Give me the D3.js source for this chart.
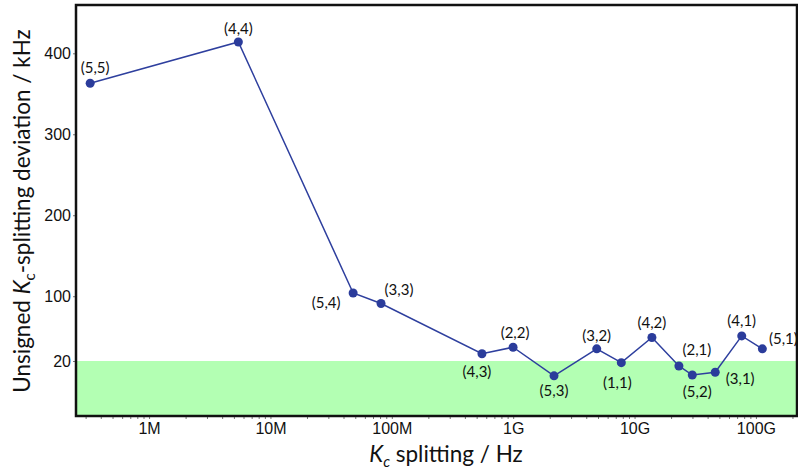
<!DOCTYPE html>
<html>
<head>
<meta charset="utf-8">
<script src="https://cdn.jsdelivr.net/npm/d3@7"></script>
<style>
  body { margin: 0; background: #fff; }
  svg { font-family: Lato, "Open Sans", sans-serif; }
</style>
</head>
<body>
<svg width="798" height="475"></svg>
<script>
// Kc splitting (Hz) per level, and deviation (kHz)
var labels = ["(5,5)", "(4,4)", "(5,4)", "(3,3)", "(4,3)", "(2,2)", "(5,3)", "(3,2)",
              "(1,1)", "(4,2)", "(2,1)", "(5,2)", "(3,1)", "(4,1)", "(5,1)"];
var splitting = [3.27e5, 5.44e6, 4.8e7, 8.15e7, 5.53e8, 9.98e8, 2.17e9, 4.88e9,
                 7.78e9, 1.39e10, 2.32e10, 2.99e10, 4.62e10, 7.64e10, 1.13e11];
var deviation = [363, 414, 104, 91, 29, 37, 14.6, 35, 19.4, 49, 18.2, 14.9, 15.9, 51, 35];
var yTicks = [20, 100, 200, 300, 400];
var xTickLabels = { 1e6: "1M", 1e7: "10M", 1e8: "100M", 1e9: "1G", 1e10: "10G", 1e11: "100G" };
var threshold = 20;

// label placement around each point (dx, dy)
var labelOffsets = [[5, -16], [0, -13], [-27, 10], [18, -14], [-5, 18], [2, -14], [0, 15], [0, -13],
                    [-4, 20], [0, -15], [18, -16], [5, 17], [25, 6], [0, -15], [21, -10]];

var svg = d3.select("svg");
var plotL = 76, plotT = 5, plotR = 797, plotB = 416;

var x = d3.scaleLog().domain([2.5e5, 2.18e11]).range([plotL, plotR]);
// the band below 20 kHz is drawn compressed
var y = d3.scaleLinear().domain([0, 20, 400]).range([plotB, 361, 53.3]);

svg.append("rect")
  .attr("x", plotL).attr("y", y(threshold))
  .attr("width", plotR - plotL).attr("height", plotB - y(threshold))
  .attr("fill", "#b3ffb3");

// x axis with minor ticks
var minor = [];
for (var e = 5; e <= 11; e++) for (var m = 1; m <= 9; m++) {
  var v = m * Math.pow(10, e);
  if (v >= 2.5e5 && v <= 2.18e11) minor.push(v);
}
var gx = svg.append("g")
  .attr("transform", "translate(0," + plotB + ")")
  .call(d3.axisBottom(x).tickValues(minor).tickSize(3).tickPadding(4)
    .tickFormat(function(d) { return xTickLabels[d] || ""; }));
gx.select(".domain").remove();
gx.selectAll("line").attr("stroke", "#777");
gx.selectAll("text").attr("font-size", 16).attr("fill", "#111");

var gy = svg.append("g")
  .attr("transform", "translate(" + plotL + ",0)")
  .call(d3.axisLeft(y).tickValues(yTicks).tickSize(3).tickPadding(2));
gy.select(".domain").remove();
gy.selectAll("line").attr("stroke", "#777");
gy.selectAll("text").attr("font-size", 16).attr("fill", "#111");

// frame
svg.append("rect")
  .attr("x", plotL).attr("y", plotT)
  .attr("width", plotR - plotL).attr("height", plotB - plotT)
  .attr("fill", "none").attr("stroke", "#111").attr("stroke-width", 2.5);

var pts = splitting.map(function(s, i) { return { x: s, y: deviation[i], label: labels[i], off: labelOffsets[i] }; });

svg.append("path")
  .datum(pts)
  .attr("fill", "none")
  .attr("stroke", "#2e3f9e")
  .attr("stroke-width", 1.5)
  .attr("d", d3.line().x(function(d) { return x(d.x); }).y(function(d) { return y(d.y); }));

svg.selectAll(".pt")
  .data(pts)
  .enter().append("circle")
  .attr("class", "pt")
  .attr("cx", function(d) { return x(d.x); })
  .attr("cy", function(d) { return y(d.y); })
  .attr("r", 4.5)
  .attr("fill", "#2b3c9b");

svg.selectAll(".lbl")
  .data(pts)
  .enter().append("text")
  .attr("class", "lbl")
  .attr("x", function(d) { return x(d.x) + d.off[0]; })
  .attr("y", function(d) { return y(d.y) + d.off[1]; })
  .attr("dy", "0.35em")
  .attr("text-anchor", "middle")
  .attr("font-size", 15)
  .attr("fill", "#111")
  .text(function(d) { return d.label; });

// axis titles
var xt = svg.append("text")
  .attr("x", 446).attr("y", 462)
  .attr("text-anchor", "middle")
  .attr("font-size", 22.5).attr("fill", "#111");
xt.append("tspan").attr("font-style", "italic").text("K");
xt.append("tspan").attr("font-style", "italic").attr("font-size", 15).attr("dy", 5).text("c");
xt.append("tspan").attr("dy", -5).text(" splitting / Hz");

var yt = svg.append("text")
  .attr("transform", "translate(30,211) rotate(-90)")
  .attr("text-anchor", "middle")
  .attr("font-size", 22.5).attr("fill", "#111");
yt.append("tspan").text("Unsigned ");
yt.append("tspan").attr("font-style", "italic").text("K");
yt.append("tspan").attr("font-size", 15).attr("dy", 5).text("c");
yt.append("tspan").attr("dy", -5).text("-splitting deviation / kHz");
</script>
</body>
</html>
